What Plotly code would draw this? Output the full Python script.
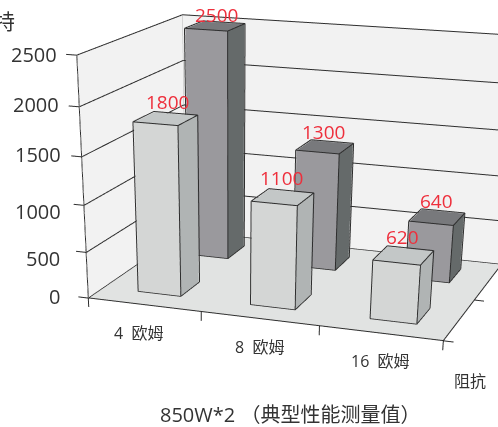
import plotly.graph_objects as go

# Output power (watts) per load, one bar row per channel configuration
impedance = ["4  欧姆", "8  欧姆", "16  欧姆"]
front_vals = [1800, 1100, 620]
back_vals = [2500, 1300, 640]
ticks = [0, 500, 1000, 1500, 2000, 2500]
tick_labels = ["0", "500", "1000", "1500", "2000", "2500"]

# Tall figure so the 45-degree field of view gives a long, shallow perspective;
# only its upper part sits inside the window.
PAGE_W, FIG_H = 498, 1300
HALF_W, HALF_D = 0.1869, 0.1918
CENTERS_X = [0.5088, 1.5055, 2.5195]
BACK_ROW_NUDGE = -0.015
ROW_Y = [0.4775, 1.5475]
XR, YR, ZR = (-0.15, 3.15), (-0.05, 2.05), (-150, 2600)
LINE = "#2e2e2e"
FONT = "Open Sans, Noto Sans CJK SC, sans-serif"
TEXT = "#333333"
RED = "#ee2f3c"
FLAT = dict(ambient=1, diffuse=0, specular=0, fresnel=0, roughness=1)

# Pixel nudges for the axis text and the value labels
TICK_XSHIFT = [-26, -24, -21, -19, -18, -18]
TICK_YSHIFT = [2, -6, -6, 2, 2, 1]
CATEGORY_XSHIFT = [-6, 0, 0]
BACK_LABEL_X, BACK_LABEL_Y = [1, -1, -1], [11, 15, 17]
FRONT_LABEL_X, FRONT_LABEL_Y = [2, -1, -1], [17, 20, 19]


def px(x, y, text, size, anchor="center", color=TEXT):
    """Page-pixel placement for free-standing captions."""
    return dict(text=text, x=x / PAGE_W, y=1 - y / FIG_H, xref="paper", yref="paper",
                xanchor=anchor, yanchor="middle", showarrow=False,
                font=dict(family=FONT, size=size, color=color))


def box(x0, x1, y0, y1, z1, front, side, top):
    xs = [x0, x1, x1, x0, x0, x1, x1, x0]
    ys = [y0, y0, y1, y1, y0, y0, y1, y1]
    zs = [0, 0, 0, 0, z1, z1, z1, z1]
    mesh = go.Mesh3d(x=xs, y=ys, z=zs,
                     i=[0, 0, 1, 1, 4, 4], j=[1, 5, 2, 6, 5, 6], k=[5, 4, 6, 5, 6, 7],
                     facecolor=[front, front, side, side, top, top],
                     flatshading=True, lighting=FLAT, hoverinfo="skip", showscale=False)
    # Outline sits a hair outside the faces so it is not lost in the depth test
    e = 0.005
    gx = [x0 - e, x1 + e, x1 + e, x0 - e, x0 - e, x1 + e, x1 + e, x0 - e]
    gy = [y0 - e, y0 - e, y1 + e, y1 + e, y0 - e, y0 - e, y1 + e, y1 + e]
    gz = [3, 3, 3, 3, z1 + 6, z1 + 6, z1 + 6, z1 + 6]
    ex, ey, ez = [], [], []
    for a, b in [(0, 1), (1, 2), (0, 4), (1, 5), (2, 6), (4, 5), (5, 6), (6, 7), (7, 4)]:
        ex += [gx[a], gx[b], None]
        ey += [gy[a], gy[b], None]
        ez += [gz[a], gz[b], None]
    return mesh, ex, ey, ez


def plane(xs, ys, zs, color):
    return go.Mesh3d(x=xs, y=ys, z=zs, i=[0, 0], j=[1, 2], k=[2, 3], color=color, flatshading=True,
                     lighting=FLAT, hoverinfo="skip", showscale=False)


traces = [
    plane([0, 3, 3, 0], [2, 2, 2, 2], [0, 0, 2500, 2500], "#f2f2f2"),
    plane([0, 0, 0, 0], [0, 2, 2, 0], [0, 0, 2500, 2500], "#f2f2f2"),
    plane([0, 3, 3, 0], [0, 0, 2, 2], [0, 0, 0, 0], "#e1e3e2"),
]

lx, ly, lz = [], [], []


def seg(a, b):
    lx.extend([a[0], b[0], None])
    ly.extend([a[1], b[1], None])
    lz.extend([a[2], b[2], None])


W = 0.004
for t in ticks:
    seg((-0.09, 0, t), (W, 0, t))
    seg((W, 0, t + 2), (W, 2 - W, t + 2))
    seg((W, 2 - W, t + 2), (3, 2 - W, t + 2))
seg((0, 0, -100), (0, 0, 2500))
seg((0, 0, 2), (3, 0, 2))
seg((3, 0, 2), (3, 2, 2))
for n in (1, 2, 3):
    seg((n, 0, -100), (n, 0, 0))
for n in (0, 1):
    seg((3, n, 0), (3.08, n, 0))

bx, by, bz = [], [], []
for n, v in enumerate(back_vals):
    cx = CENTERS_X[n] + BACK_ROW_NUDGE
    m, ex, ey, ez = box(cx - HALF_W, cx + HALF_W, ROW_Y[1] - HALF_D, ROW_Y[1] + HALF_D, v,
                        "#9a999d", "#656a6a", "#78797c")
    traces.append(m)
    bx += ex; by += ey; bz += ez
for n, v in enumerate(front_vals):
    m, ex, ey, ez = box(CENTERS_X[n] - HALF_W, CENTERS_X[n] + HALF_W, ROW_Y[0] - HALF_D, ROW_Y[0] + HALF_D, v,
                        "#d4d6d5", "#b0b4b4", "#c3c7c7")
    traces.append(m)
    bx += ex; by += ey; bz += ez

traces.append(go.Scatter3d(x=[W, W], y=[2 - W, 2 - W], z=[0, 2500], mode="lines",
                           line=dict(color="#b5b5b5", width=1), hoverinfo="skip"))
traces.append(go.Scatter3d(x=lx, y=ly, z=lz, mode="lines", line=dict(color=LINE, width=2), hoverinfo="skip"))
traces.append(go.Scatter3d(x=bx, y=by, z=bz, mode="lines", line=dict(color=LINE, width=2), hoverinfo="skip"))

scene_notes = []
for n, v in enumerate(back_vals):
    scene_notes.append(dict(x=CENTERS_X[n] + BACK_ROW_NUDGE, y=ROW_Y[1], z=v, text=str(v), showarrow=False,
                            xshift=BACK_LABEL_X[n], yshift=BACK_LABEL_Y[n],
                            font=dict(family=FONT, size=19, color=RED)))
for n, v in enumerate(front_vals):
    scene_notes.append(dict(x=CENTERS_X[n], y=ROW_Y[0], z=v, text=str(v), showarrow=False,
                            xshift=FRONT_LABEL_X[n], yshift=FRONT_LABEL_Y[n],
                            font=dict(family=FONT, size=19, color=RED)))
for n, name in enumerate(impedance):
    scene_notes.append(dict(x=n + .5, y=0, z=0, text=name, showarrow=False, yshift=-28, xshift=CATEGORY_XSHIFT[n],
                            font=dict(family=FONT, size=16, color=TEXT)))
for t, label, dx, dy in zip(ticks, tick_labels, TICK_XSHIFT, TICK_YSHIFT):
    scene_notes.append(dict(x=0, y=0, z=t, text=label, showarrow=False, xanchor="right", xshift=dx, yshift=dy,
                            font=dict(family=FONT, size=20, color=TEXT)))

axis = dict(visible=False, showspikes=False)
fig = go.Figure(traces)
fig.update_layout(
    width=PAGE_W, height=FIG_H, margin=dict(l=0, r=0, t=0, b=0), showlegend=False,
    paper_bgcolor="white",
    scene=dict(
        domain=dict(x=[0, 1], y=[0, 1]), dragmode="orbit",
        xaxis=dict(range=XR, **axis), yaxis=dict(range=YR, **axis), zaxis=dict(range=ZR, **axis),
        aspectmode="manual", aspectratio=dict(x=0.7657, y=0.5264, z=0.4851),
        camera=dict(eye=dict(x=0.9305, y=-2.9109, z=0.7159),
                    center=dict(x=0.0206, y=-0.3560, z=-0.8640),
                    up=dict(x=-0.1747, y=0.4721, z=0.8641)),
        annotations=scene_notes,
    ),
    annotations=[
        px(17, 21, "瓦特", 21, anchor="right"),
        px(470, 381, "阻抗", 16),
        px(290, 415, "850W*2 （典型性能测量值）", 20),
    ],
)
fig.write_html("out.html", post_script="document.documentElement.style.overflow='hidden';document.body.style.overflow='hidden';")
